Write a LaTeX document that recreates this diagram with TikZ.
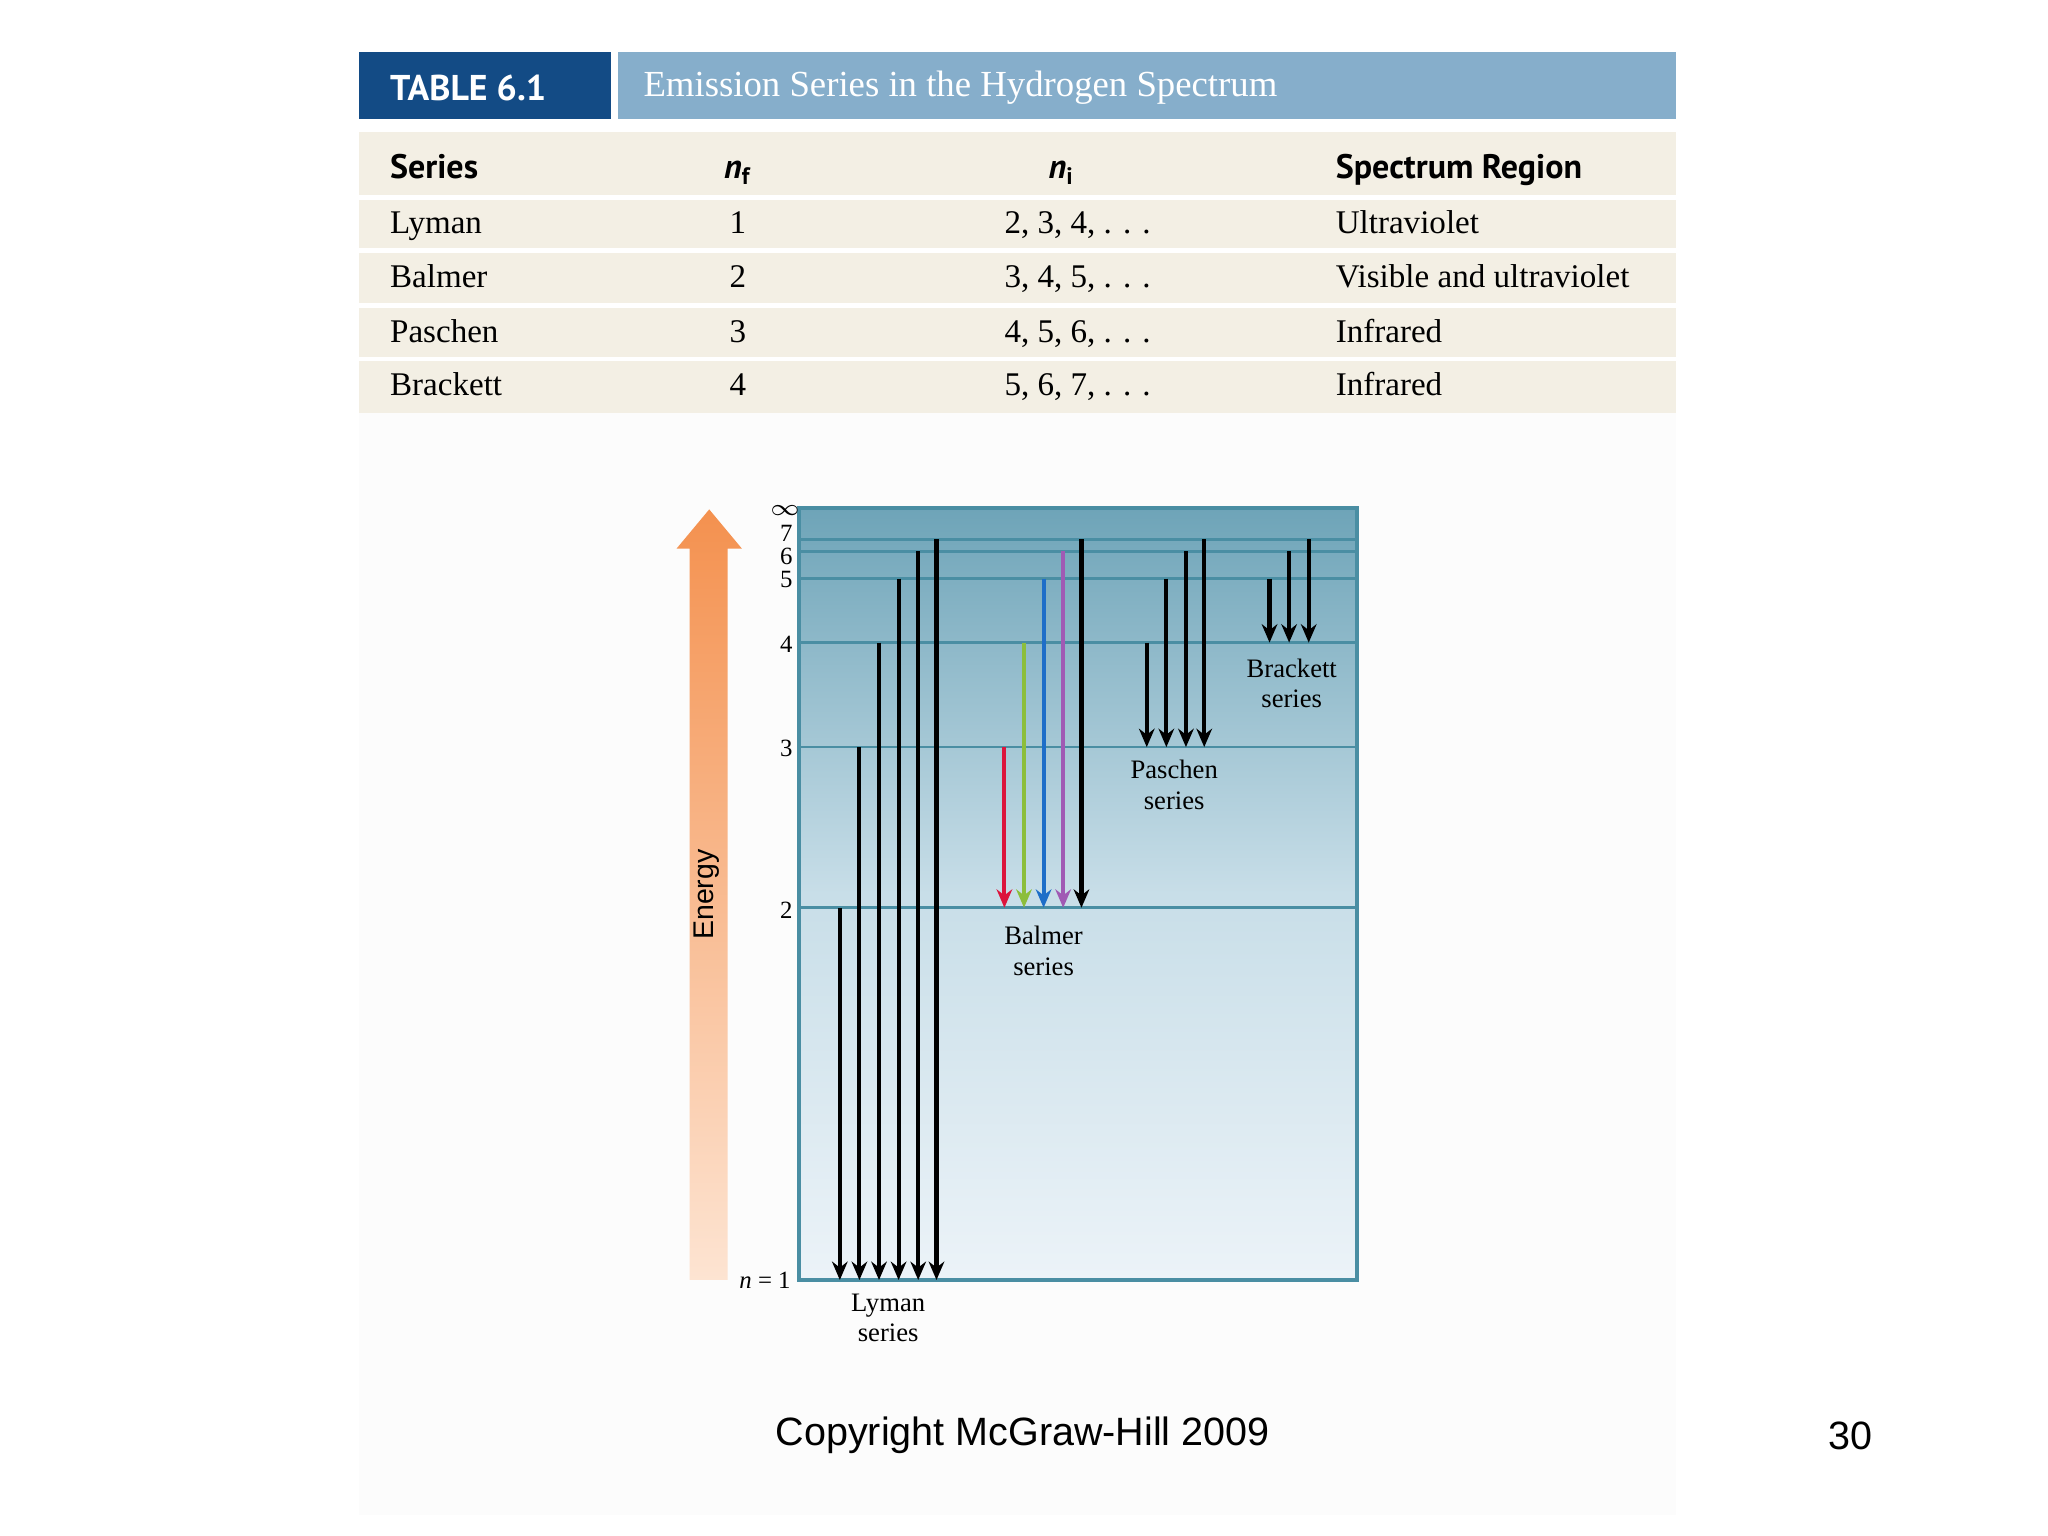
\documentclass[tikz,border=0pt]{standalone}
\usepackage{fontspec}
\setmainfont{Liberation Serif}
\setsansfont{Liberation Sans}
\newfontfamily\hdfont{PT Sans}
\usetikzlibrary{arrows.meta}
\definecolor{tdark}{HTML}{134B85}
\definecolor{tlight}{HTML}{86AECB}
\definecolor{beige}{HTML}{F3EFE4}
\definecolor{lvl}{HTML}{4A8EA3}
\tikzset{
 lev/.style={draw=lvl,line width=0.6pt},
 em/.style={line width=0.9pt,-{Stealth[length=4pt,width=3.4pt]}},
 rowt/.style={font=\fontsize{7.2}{8}\selectfont,anchor=base west,inner sep=0pt},
 rowc/.style={font=\fontsize{7.2}{8}\selectfont,anchor=base,inner sep=0pt},
 hdt/.style={font=\hdfont\bfseries\fontsize{7.4}{8}\selectfont,anchor=base west,inner sep=0pt},
 lab/.style={font=\fontsize{5.8}{6.6}\selectfont,align=center},
 num/.style={font=\fontsize{5.4}{6}\selectfont,inner sep=0pt}
}
\begin{document}
\begin{tikzpicture}[x=0.01cm,y=-0.01cm]
\useasboundingbox (0,0) rectangle (1568,1176);
\fill[white] (0,0) rectangle (1568,1176);
\fill[black!1.2] (275,316) rectangle (1283,1160);
% title
\fill[tdark] (275,40) rectangle (468,91);
\fill[tlight] (473,40) rectangle (1283,91);
\node[font=\hdfont\bfseries\fontsize{7.8}{9}\selectfont,text=white,anchor=west,inner sep=0pt] (tn) at (298,67) {TABLE 6.1};
\node[font=\fontsize{8}{9}\selectfont,text=white,anchor=west,inner sep=0pt] (tt) at (492,67) {Emission Series in the Hydrogen Spectrum};
% table body
\fill[beige] (275,101) rectangle (1283,316);
\foreach \yy in {151,192,234,275} \draw[white,line width=1pt] (275,\yy) -- (1283,\yy);
\node[hdt] (h1) at (298,137) {Series};
\node[hdt,anchor=base] (h2) at (565,137) {\itshape n\textsubscript{\upshape f}};
\node[hdt,anchor=base] (h3) at (813,137) {\itshape n\textsubscript{\upshape i}};
\node[hdt] (h4) at (1022,137) {Spectrum Region};
\foreach \nm/\nf/\ni/\reg/\yy in {Lyman/1/{2, 3, 4, . . .}/Ultraviolet/179, Balmer/2/{3, 4, 5, . . .}/Visible and ultraviolet/220, Paschen/3/{4, 5, 6, . . .}/Infrared/262, Brackett/4/{5, 6, 7, . . .}/Infrared/303}{
 \node[rowt] at (298,\yy) {\nm};
 \node[rowc] at (565,\yy) {\nf};
 \node[rowc] at (825,\yy) {\ni};
 \node[rowt] at (1022,\yy) {\reg};
}
% energy arrow
\shade[top color={rgb,255:red,244;green,145;blue,79},bottom color={rgb,255:red,253;green,228;blue,210}]
 (528,980) -- (528,420) -- (518,420) -- (543,390) -- (568,420) -- (557,420) -- (557,980) -- cycle;
\node[font=\sffamily\fontsize{6.2}{7}\selectfont,rotate=90] (en) at (541,685) {Energy};
% box
\shade[top color={rgb,255:red,110;green,164;blue,184},bottom color={rgb,255:red,236;green,243;blue,248},middle color={rgb,255:red,200;green,222;blue,232}] (612,389) rectangle (1039,980);
\draw[lvl,line width=0.9pt] (612,389) rectangle (1039,980);
\foreach \yy in {413,422,443,492,572,695} \draw[lev] (612,\yy) -- (1039,\yy);
\foreach \n/\yy in {7/408,6/426,5/444,4/493,3/573,2/697} \node[num] at (602,\yy) {\n};
\node[font=\fontsize{4.5}{5}\selectfont,inner sep=0pt] at (601,391) {$\infty$};
\node[num,anchor=east] at (606,980) {\textit{n} = 1};
% Lyman
\foreach \x/\yy in {643/695,658/572,673/492,688/443,703/422,717/413} \draw[em] (\x,\yy) -- (\x,980);
% Balmer
\draw[em,draw={rgb,255:red,220;green,20;blue,60}] (769,572) -- (769,695);
\draw[em,draw={rgb,255:red,140;green,190;blue,60}] (784,492) -- (784,695);
\draw[em,draw={rgb,255:red,30;green,110;blue,200}] (799,443) -- (799,695);
\draw[em,draw={rgb,255:red,160;green,90;blue,180}] (814,422) -- (814,695);
\draw[em] (828,413) -- (828,695);
% Paschen
\foreach \x/\yy in {878/492,893/443,908/422,922/413} \draw[em] (\x,\yy) -- (\x,572);
% Brackett
\foreach \x/\yy in {972/443,987/422,1002/413} \draw[em] (\x,\yy) -- (\x,492);
\node[lab] (ll) at (680,1009) {Lyman\\series};
\node[lab] (bl) at (799,728) {Balmer\\series};
\node[lab] (pl) at (899,601) {Paschen\\series};
\node[lab] (kl) at (989,523) {Brackett\\series};
\node[font=\sffamily\fontsize{8.6}{10}\selectfont] (cp) at (783,1099) {Copyright McGraw-Hill 2009};
\node[font=\sffamily\fontsize{8.6}{10}\selectfont] (pg) at (1417,1099) {30};
\end{tikzpicture}
\end{document}
